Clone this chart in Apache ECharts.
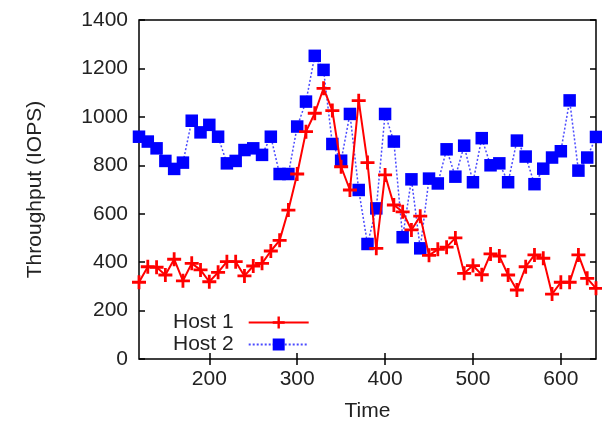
<!DOCTYPE html>
<html>
<head>
<meta charset="utf-8">
<script src="https://cdn.jsdelivr.net/npm/echarts@6/dist/echarts.min.js"></script>
<style>html,body{margin:0;padding:0;background:#fff;}#c{width:602px;height:423px;}</style>
</head>
<body>
<div id="c"></div>
<script>
var timeValues = [120,130,140,150,160,170,180,190,200,210,220,230,240,250,260,270,280,290,300,310,320,330,340,350,360,370,380,390,400,410,420,430,440,450,460,470,480,490,500,510,520,530,540,550,560,570,580,590,600,610,620,630,640];
var host1 = [317,381,379,347,412,323,395,368,319,358,402,402,343,384,395,446,490,615,764,939,1015,1118,1026,794,698,1067,811,457,760,636,608,533,590,428,453,462,500,354,386,348,434,425,347,285,381,430,416,268,317,317,430,333,292];
var host2 = [918,898,870,818,785,811,984,936,967,918,808,818,863,870,843,918,764,764,960,1063,1252,1194,888,819,1012,698,475,622,1012,898,503,742,457,745,725,866,753,881,730,912,800,808,730,902,836,722,786,832,858,1068,778,832,917];
var xTicks = [200,300,400,500,600];
var yTicks = [0,200,400,600,800,1000,1200,1400];
var seriesNames = ['Host 1','Host 2'];

function pairs(xs, ys){ return xs.map(function(x,i){return [x, ys[i]];}); }

var font = 'Liberation Sans, Arial, sans-serif';
var txt = '#222';
var fs = 21;
var plusPath = 'path://M4,0H6V4H10V6H6V10H4V6H0V4H4Z';
var plain = function(v){ return String(v); };

var chart = echarts.init(document.getElementById('c'), null, {renderer:'canvas'});
chart.setOption({
  animation:false,
  backgroundColor:'#fff',
  grid:{left:139, right:6, top:20, bottom:64, outerBoundsMode:'none', containLabel:false, show:true, borderColor:'#000', borderWidth:1.5, backgroundColor:'transparent'},
  legend:{
    orient:'vertical', left:168, top:307, align:'right', itemWidth:60, itemHeight:15, itemGap:1,
    textStyle:{fontFamily:font, fontSize:fs, color:txt, padding:[0,10,0,0]},
    data:seriesNames
  },
  xAxis:[{
    type:'value', min:120, max:640, position:'bottom',
    name:'Time', nameLocation:'middle', nameGap:42,
    nameTextStyle:{fontFamily:font, fontSize:fs, color:txt},
    axisLine:{show:false},
    axisTick:{show:true, inside:true, length:6, customValues:xTicks, lineStyle:{color:'#000', width:1.5}},
    axisLabel:{customValues:xTicks, fontFamily:font, fontSize:fs, color:txt, margin:10, formatter:plain},
    splitLine:{show:false}
  },{
    type:'value', min:120, max:640, position:'top',
    axisLine:{show:false},
    axisTick:{show:true, inside:true, length:6, customValues:xTicks, lineStyle:{color:'#000', width:1.5}},
    axisLabel:{show:false, customValues:xTicks},
    splitLine:{show:false}
  }],
  yAxis:[{
    type:'value', min:0, max:1400, interval:200, position:'left',
    name:'Throughput (IOPS)', nameLocation:'middle', nameGap:93,
    nameTextStyle:{fontFamily:font, fontSize:fs, color:txt},
    axisLine:{show:false},
    axisTick:{show:true, inside:true, length:6, lineStyle:{color:'#000', width:1.5}},
    axisLabel:{fontFamily:font, fontSize:fs, color:txt, margin:11, customValues:yTicks, formatter:plain},
    splitLine:{show:false}
  },{
    type:'value', min:0, max:1400, interval:200, position:'right',
    axisLine:{show:false},
    axisTick:{show:true, inside:true, length:6, lineStyle:{color:'#000', width:1.5}},
    axisLabel:{show:false},
    splitLine:{show:false}
  }],
  series:[{
    name:seriesNames[0], type:'line', data:pairs(timeValues, host1),
    symbol:plusPath, symbolSize:14, showAllSymbol:true, z:3,
    lineStyle:{color:'#ff0000', width:2},
    itemStyle:{color:'#ff0000'}
  },{
    name:seriesNames[1], type:'line', data:pairs(timeValues, host2),
    symbol:'rect', symbolSize:12.5, showAllSymbol:true, z:2,
    lineStyle:{color:'#4a4aff', width:1.5, type:[2,2]},
    itemStyle:{color:'#0000ff'}
  }]
});
</script>
</body>
</html>
